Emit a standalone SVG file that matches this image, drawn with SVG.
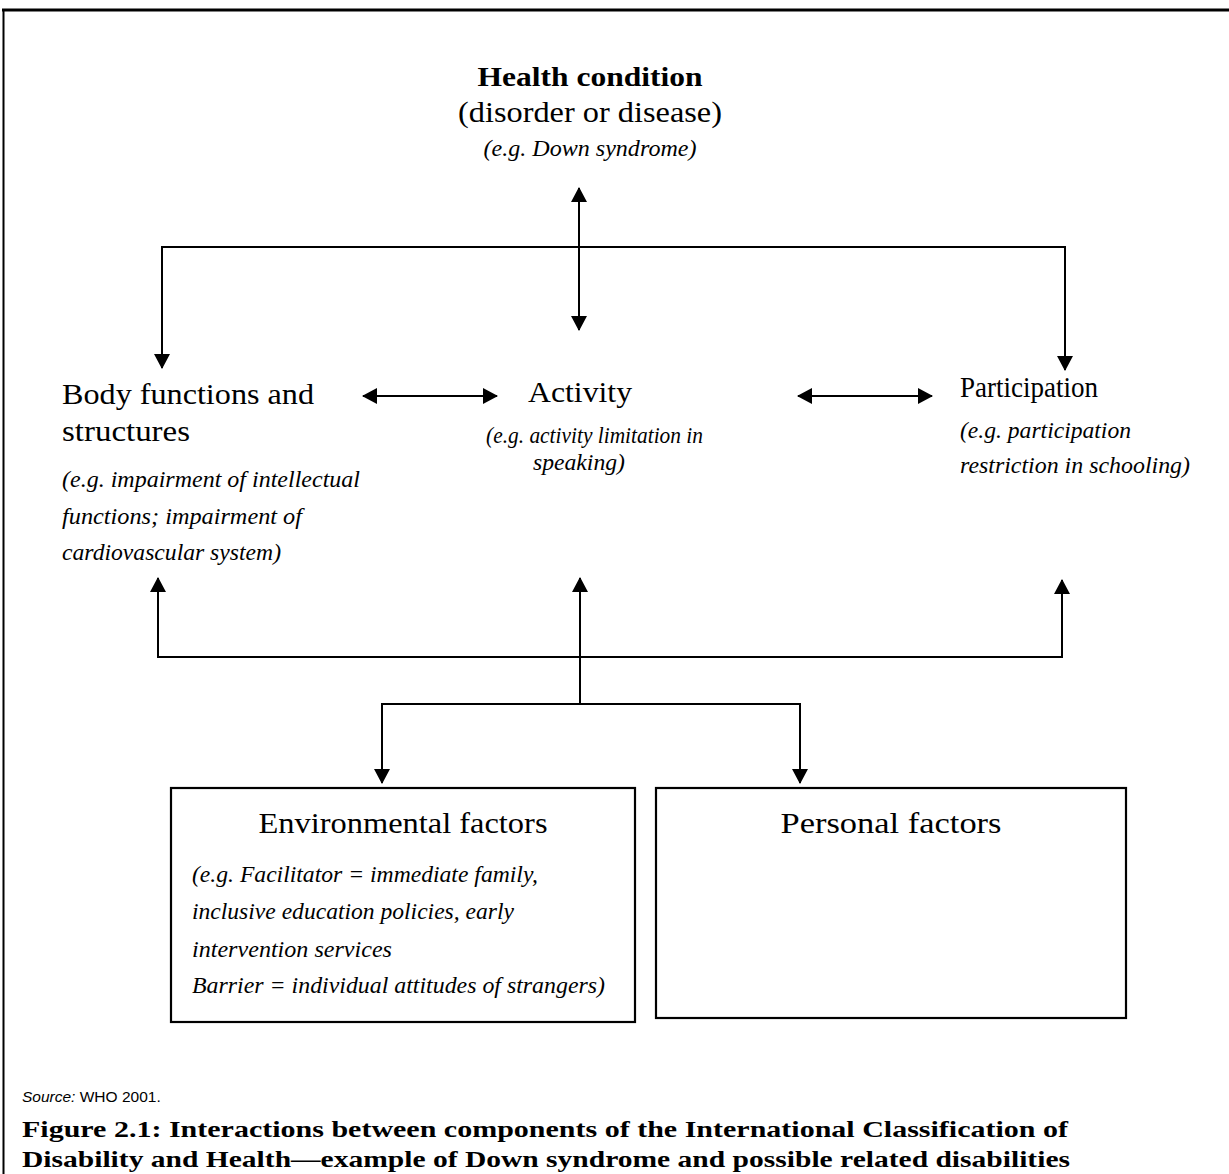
<svg xmlns="http://www.w3.org/2000/svg" width="1229" height="1174" viewBox="0 0 1229 1174">
<style>
.lbl{font-family:"Liberation Serif","Times New Roman",serif;font-size:29px;fill:#000}
.ex{font-family:"Liberation Serif","Times New Roman",serif;font-size:22.5px;font-style:italic;fill:#000}
.bold{font-family:"Liberation Serif","Times New Roman",serif;font-weight:bold;fill:#000}
.src{font-family:"Liberation Sans",Arial,sans-serif;font-size:15.5px;fill:#000}
.c{stroke:#000;stroke-width:2;fill:none}
.box{stroke:#000;stroke-width:2.2;fill:#fff}
</style>
<defs>
<marker id="ah" markerUnits="userSpaceOnUse" markerWidth="16" markerHeight="16" viewBox="0 0 15 16" refX="14" refY="8" orient="auto-start-reverse">
<path d="M0,0 L15,8 L0,16 z" fill="#000"/>
</marker>
</defs>
<rect width="1229" height="1174" fill="#fff"/>
<g id="frame">
<line x1="2" y1="10" x2="1229" y2="10" stroke="#000" stroke-width="3"/>
<line x1="3.5" y1="9" x2="3.5" y2="1174" stroke="#000" stroke-width="2"/>
</g>
<g id="connectors">
<line class="c" x1="579" y1="188" x2="579" y2="330" marker-start="url(#ah)" marker-end="url(#ah)"/>
<polyline class="c" points="162,368 162,247 1065,247 1065,370" marker-start="url(#ah)" marker-end="url(#ah)"/>
<line class="c" x1="363" y1="396" x2="497" y2="396" marker-start="url(#ah)" marker-end="url(#ah)"/>
<line class="c" x1="798" y1="396" x2="932" y2="396" marker-start="url(#ah)" marker-end="url(#ah)"/>
<polyline class="c" points="158,578 158,657 1062,657 1062,580" marker-start="url(#ah)" marker-end="url(#ah)"/>
<line class="c" x1="580" y1="704" x2="580" y2="578" marker-end="url(#ah)"/>
<polyline class="c" points="382,783 382,704 800,704 800,783" marker-start="url(#ah)" marker-end="url(#ah)"/>
</g>
<g id="health">
<text class="bold" x="590" y="86" font-size="26.5" text-anchor="middle" textLength="225" lengthAdjust="spacingAndGlyphs">Health condition</text>
<text class="lbl" x="590" y="122" text-anchor="middle" textLength="264" lengthAdjust="spacingAndGlyphs">(disorder or disease)</text>
<text class="ex" x="590" y="156" text-anchor="middle" textLength="213" lengthAdjust="spacingAndGlyphs">(e.g. Down syndrome)</text>
</g>
<g id="body">
<text class="lbl" x="62" y="404" textLength="252" lengthAdjust="spacingAndGlyphs">Body functions and</text>
<text class="lbl" x="62" y="441" textLength="128" lengthAdjust="spacingAndGlyphs">structures</text>
<text class="ex" x="62" y="487" textLength="298" lengthAdjust="spacingAndGlyphs">(e.g. impairment of intellectual</text>
<text class="ex" x="62" y="524" textLength="240" lengthAdjust="spacingAndGlyphs">functions; impairment of</text>
<text class="ex" x="62" y="560" textLength="219" lengthAdjust="spacingAndGlyphs">cardiovascular system)</text>
</g>
<g id="activity">
<text class="lbl" x="528" y="402" textLength="104" lengthAdjust="spacingAndGlyphs">Activity</text>
<text class="ex" x="486" y="443" textLength="217" lengthAdjust="spacingAndGlyphs">(e.g. activity limitation in</text>
<text class="ex" x="533" y="470" textLength="92" lengthAdjust="spacingAndGlyphs">speaking)</text>
</g>
<g id="participation">
<text class="lbl" x="960" y="397" textLength="138" lengthAdjust="spacingAndGlyphs">Participation</text>
<text class="ex" x="960" y="438" textLength="171" lengthAdjust="spacingAndGlyphs">(e.g. participation</text>
<text class="ex" x="960" y="473" textLength="230" lengthAdjust="spacingAndGlyphs">restriction in schooling)</text>
</g>
<g id="environmental">
<rect class="box" x="171" y="788" width="464" height="234"/>
<text class="lbl" x="403" y="833" text-anchor="middle" textLength="289" lengthAdjust="spacingAndGlyphs">Environmental factors</text>
<text class="ex" x="192" y="882" textLength="346" lengthAdjust="spacingAndGlyphs">(e.g. Facilitator = immediate family,</text>
<text class="ex" x="192" y="919" textLength="322" lengthAdjust="spacingAndGlyphs">inclusive education policies, early</text>
<text class="ex" x="192" y="957" textLength="200" lengthAdjust="spacingAndGlyphs">intervention services</text>
<text class="ex" x="192" y="993" textLength="413" lengthAdjust="spacingAndGlyphs">Barrier = individual attitudes of strangers)</text>
</g>
<g id="personal">
<rect class="box" x="656" y="788" width="470" height="230"/>
<text class="lbl" x="891" y="833" text-anchor="middle" textLength="221" lengthAdjust="spacingAndGlyphs">Personal factors</text>
</g>
<g id="caption">
<text class="src" x="22" y="1102"><tspan font-style="italic">Source:</tspan> WHO 2001.</text>
<text class="bold" x="22" y="1137" font-size="23" textLength="1046" lengthAdjust="spacingAndGlyphs">Figure 2.1: Interactions between components of the International Classification of</text>
<text class="bold" x="22" y="1167" font-size="23" textLength="1048" lengthAdjust="spacingAndGlyphs">Disability and Health—example of Down syndrome and possible related disabilities</text>
</g>
</svg>
